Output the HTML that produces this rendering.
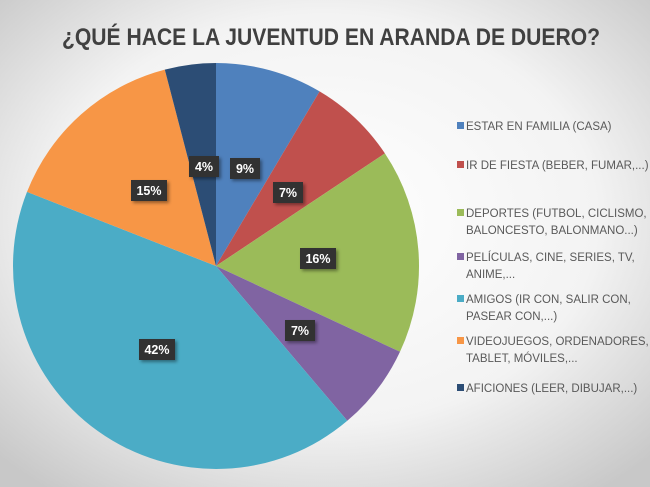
<!DOCTYPE html>
<html><head><meta charset="utf-8"><style>
html,body{margin:0;padding:0;width:650px;height:487px;overflow:hidden}
</style></head><body>
<svg width="650" height="487" viewBox="0 0 650 487" xmlns="http://www.w3.org/2000/svg" font-family="Liberation Sans, sans-serif">
<defs>
<radialGradient id="bg" cx="50%" cy="45%" r="70%">
<stop offset="0" stop-color="#ffffff"/><stop offset="0.6" stop-color="#f3f3f3"/><stop offset="1" stop-color="#c8c8c8"/>
</radialGradient>
<filter id="sh" x="-20%" y="-20%" width="150%" height="150%"><feDropShadow dx="2" dy="2" stdDeviation="1.5" flood-color="#000" flood-opacity="0.4"/></filter>
</defs>
<rect width="650" height="487" fill="url(#bg)"/>
<text x="62" y="45" font-size="24" font-weight="bold" fill="#404040" textLength="538" lengthAdjust="spacingAndGlyphs">¿QUÉ HACE LA JUVENTUD EN ARANDA DE DUERO?</text>
<g stroke="none">
<path d="M216,266 L216,63 A203,203 0 0 1 319.6,91.4 Z" fill="#4f81bd"/>
<path d="M216,266 L319.6,91.4 A203,203 0 0 1 384.9,153.4 Z" fill="#c0504d"/>
<path d="M216,266 L384.9,153.4 A203,203 0 0 1 400,351.8 Z" fill="#9bbb59"/>
<path d="M216,266 L400,351.8 A203,203 0 0 1 347.3,420.8 Z" fill="#8064a2"/>
<path d="M216,266 L347.3,420.8 A203,203 0 0 1 27,191.9 Z" fill="#4bacc6"/>
<path d="M216,266 L27,191.9 A203,203 0 0 1 164.8,69.6 Z" fill="#f79646"/>
<path d="M216,266 L164.8,69.6 A203,203 0 0 1 216,63 Z" fill="#2c4d75"/>
</g>
<g font-size="12.5" font-weight="bold" fill="#fff" text-anchor="middle">
<rect x="230" y="158" width="30" height="21" fill="#333" filter="url(#sh)"/><text x="245" y="173">9%</text>
<rect x="273" y="182" width="30" height="21" fill="#333" filter="url(#sh)"/><text x="288" y="197">7%</text>
<rect x="300" y="248" width="36" height="21" fill="#333" filter="url(#sh)"/><text x="318" y="263">16%</text>
<rect x="285" y="320" width="30" height="21" fill="#333" filter="url(#sh)"/><text x="300" y="335">7%</text>
<rect x="139" y="339" width="36" height="21" fill="#333" filter="url(#sh)"/><text x="157" y="354">42%</text>
<rect x="131" y="180" width="36" height="21" fill="#333" filter="url(#sh)"/><text x="149" y="195">15%</text>
<rect x="189" y="156" width="30" height="21" fill="#333" filter="url(#sh)"/><text x="204" y="171">4%</text>
</g>
<g font-size="11.5" fill="#595959">
<rect x="457" y="122" width="7" height="7" fill="#4f81bd"/><text x="466" y="130">ESTAR EN FAMILIA (CASA)</text>
<rect x="457" y="161" width="7" height="7" fill="#c0504d"/><text x="466" y="169">IR DE FIESTA (BEBER, FUMAR,...)</text>
<rect x="457" y="209" width="7" height="7" fill="#9bbb59"/><text x="466" y="217">DEPORTES (FUTBOL, CICLISMO,</text><text x="466" y="234">BALONCESTO, BALONMANO...)</text>
<rect x="457" y="253" width="7" height="7" fill="#8064a2"/><text x="466" y="261">PELÍCULAS, CINE, SERIES, TV,</text><text x="466" y="278">ANIME,...</text>
<rect x="457" y="295" width="7" height="7" fill="#4bacc6"/><text x="466" y="303">AMIGOS (IR CON, SALIR CON,</text><text x="466" y="320">PASEAR CON,...)</text>
<rect x="457" y="337" width="7" height="7" fill="#f79646"/><text x="466" y="345">VIDEOJUEGOS, ORDENADORES,</text><text x="466" y="362">TABLET, MÓVILES,...</text>
<rect x="457" y="384" width="7" height="7" fill="#2c4d75"/><text x="466" y="392">AFICIONES (LEER, DIBUJAR,...)</text>
</g>
</svg>
</body></html>
